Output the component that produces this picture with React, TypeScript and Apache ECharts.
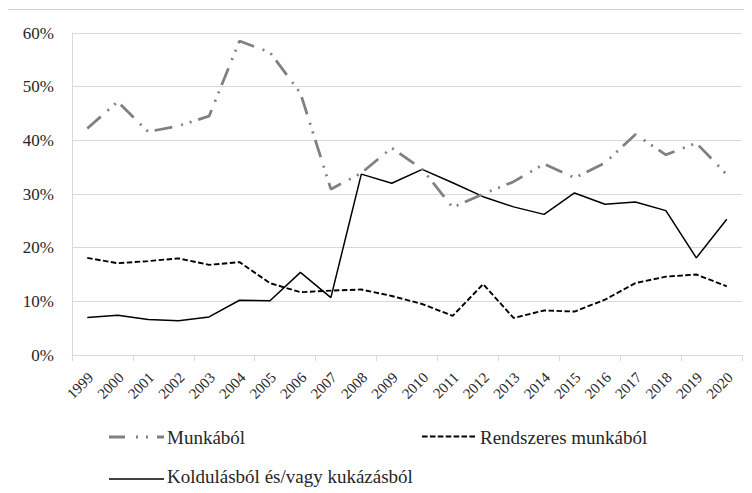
import React, { useEffect, useRef } from "react";
import * as echarts from "echarts";

const years = ["1999","2000","2001","2002","2003","2004","2005","2006","2007","2008","2009","2010","2011","2012","2013","2014","2015","2016","2017","2018","2019","2020"];
const munkabol = [42.2,47.2,41.6,42.7,44.5,58.5,56.4,48.8,30.9,33.9,38.6,34.6,27.5,30.0,32.3,35.6,33.0,35.8,41.1,37.3,39.5,33.6];
const rendszeres = [18.1,17.1,17.5,18.0,16.8,17.3,13.4,11.7,12.0,12.2,11.0,9.5,7.3,13.2,6.9,8.3,8.1,10.3,13.4,14.6,15.0,12.8];
const koldulas = [7.0,7.4,6.6,6.4,7.1,10.2,10.1,15.4,10.7,33.7,32.0,34.6,32.1,29.5,27.6,26.2,30.2,28.1,28.5,26.9,18.1,25.3];
const yTickValues = [0, 10, 20, 30, 40, 50, 60];
const yTickLabels = ["0%", "10%", "20%", "30%", "40%", "50%", "60%"];
const legendNames = ["Munkából", "Rendszeres munkából", "Koldulásból és/vagy kukázásból"];

const SERIF = "'Liberation Serif', 'Times New Roman', serif";
const TEXT = "#262626";
const GRID_LEFT = 72;

export default function App() {
  const ref = useRef<HTMLDivElement>(null);
  useEffect(() => {
    if (!ref.current) return;
    const chart = echarts.init(ref.current, null, { renderer: "svg" });
    chart.setOption({
      animation: false,
      grid: { left: GRID_LEFT, top: 33, width: 670, height: 322 },
      xAxis: {
        type: "category",
        data: years,
        boundaryGap: true,
        axisLine: { show: true, lineStyle: { color: "#d9d9d9", width: 1 } },
        axisTick: { show: true, length: 6, lineStyle: { color: "#d9d9d9" } },
        axisLabel: { show: false },
      },
      yAxis: {
        type: "value",
        min: 0,
        max: 60,
        interval: 10,
        axisLine: { show: true, lineStyle: { color: "#d9d9d9", width: 1 } },
        axisTick: { show: false },
        splitLine: { show: true, lineStyle: { color: "#d9d9d9", width: 1 } },
        axisLabel: { show: false },
      },
      series: [
        {
          name: legendNames[0],
          type: "line",
          data: munkabol,
          symbol: "none",
          color: "#808080",
          lineStyle: { color: "#808080", width: 2.75, type: [18, 9, 2, 7, 2, 7], cap: "butt" },
          z: 3,
        },
        {
          name: legendNames[1],
          type: "line",
          data: rendszeres,
          symbol: "none",
          color: "#000000",
          lineStyle: { color: "#000000", width: 1.9, type: [5.5, 2.5] },
          z: 2,
        },
        {
          name: legendNames[2],
          type: "line",
          data: koldulas,
          symbol: "none",
          color: "#000000",
          lineStyle: { color: "#000000", width: 1.5, type: "solid" },
          z: 2,
        },
      ],
    });

    const axisY = chart.convertToPixel({ yAxisIndex: 0 }, 0) as number;
    const textStyle = (text: string, size: number, align: string) => ({
      text,
      font: size + "px " + SERIF,
      fontFamily: SERIF,
      fontSize: size,
      fill: TEXT,
      align,
      verticalAlign: "middle",
    });

    const xLabels = years.map((yr, i) => {
      const cx = chart.convertToPixel({ xAxisIndex: 0 }, i) as number;
      return {
        type: "text",
        id: "xl" + i,
        x: cx + 3.5,
        y: axisY + 20,
        rotation: Math.PI / 4,
        silent: true,
        style: textStyle(yr, 15, "right"),
      };
    });

    const yLabels = yTickValues.map((v, i) => ({
      type: "text",
      id: "yl" + i,
      x: GRID_LEFT - 18,
      y: chart.convertToPixel({ yAxisIndex: 0 }, v) as number,
      silent: true,
      style: textStyle(yTickLabels[i], 17, "right"),
    }));

    const legendItems = [
      { x: 109, y: 437, ly: 437, stroke: "#808080", lw: 3, dash: [16, 11, 2, 8, 2, 9] as number[] | null },
      { x: 422, y: 437, ly: 436.5, stroke: "#000000", lw: 2, dash: [5.6, 2.3] as number[] | null },
      { x: 109, y: 476.5, ly: 479, stroke: "#000000", lw: 1.5, dash: null as number[] | null },
    ];
    const legendEls: any[] = [];
    legendItems.forEach((it, i) => {
      legendEls.push({
        type: "line",
        id: "lgl" + i,
        silent: true,
        shape: { x1: it.x, y1: it.ly, x2: it.x + 55, y2: it.ly },
        style: { stroke: it.stroke, lineWidth: it.lw, lineDash: it.dash || undefined, lineCap: "butt" },
      });
      legendEls.push({
        type: "text",
        id: "lgt" + i,
        x: it.x + 58,
        y: it.y,
        silent: true,
        style: textStyle(legendNames[i], 19, "left"),
      });
    });

    chart.setOption({
      graphic: [
        {
          type: "rect",
          id: "frame",
          silent: true,
          shape: { x: 7.5, y: 9.5, width: 800, height: 600 },
          style: { fill: "none", stroke: "#d0d0d0", lineWidth: 1 },
        },
        ...xLabels,
        ...yLabels,
        ...legendEls,
      ],
    });
    return () => chart.dispose();
  }, []);
  return (
    <div
      ref={ref}
      style={{ width: 752, height: 493, marginLeft: -8, marginTop: -8 }}
    />
  );
}
